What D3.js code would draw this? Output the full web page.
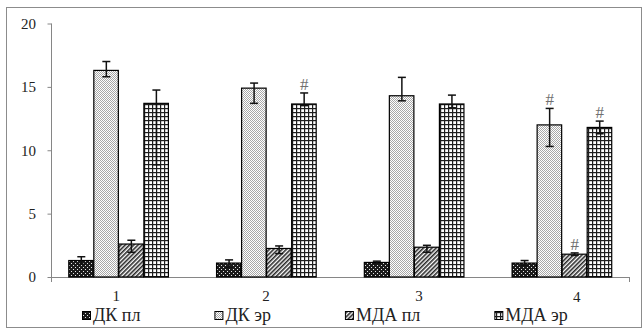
<!DOCTYPE html>
<html><head><meta charset="utf-8">
<script src="https://cdn.jsdelivr.net/npm/d3@7"></script>
<style>html,body{margin:0;padding:0;background:#fff;}svg{display:block;}</style>
</head><body>
<svg id="chart" width="643" height="329"></svg>
<script>
const categories = ["1", "2", "3", "4"];
const seriesNames = ["ДК пл", "ДК эр", "МДА пл", "МДА эр"];
// values per series, by category
const dkPl  = [1.3, 1.1, 1.15, 1.1];
const dkEr  = [16.3, 14.9, 14.3, 12.0];
const mdaPl = [2.6, 2.25, 2.35, 1.8];
const mdaEr = [13.7, 13.65, 13.65, 11.8];
// error bars (plus / minus)
const dkPlPlus  = [0.3, 0.25, 0.1, 0.2];
const dkPlMinus = [0.3, 0.35, 0.1, 0.2];
const dkErPlus  = [0.7, 0.4, 1.45, 1.3];
const dkErMinus = [0.5, 1.2, 0.4, 1.7];
const mdaPlPlus  = [0.3, 0.2, 0.15, 0.1];
const mdaPlMinus = [0.65, 0.4, 0.4, 0.1];
const mdaErPlus  = [1.05, 0.87, 0.7, 0.5];
const mdaErMinus = [4.85, 0.13, 0.3, 0.5];
// significance marks (#)
const dkPlSig  = [0, 0, 0, 0];
const dkErSig  = [0, 0, 0, 1];
const mdaPlSig = [0, 0, 0, 1];
const mdaErSig = [0, 1, 0, 1];
const yTicks = [0, 5, 10, 15, 20];

const seriesVals = [dkPl, dkEr, mdaPl, mdaEr];
const seriesPlus = [dkPlPlus, dkErPlus, mdaPlPlus, mdaErPlus];
const seriesMinus = [dkPlMinus, dkErMinus, mdaPlMinus, mdaErMinus];
const seriesSig = [dkPlSig, dkErSig, mdaPlSig, mdaErSig];

const svg = d3.select("#chart");
const font = "Liberation Serif";
const axisColor = "#868686";

// patterns
const defs = svg.append("defs");
const p0 = defs.append("pattern").attr("id","pat0").attr("width",4).attr("height",4).attr("patternUnits","userSpaceOnUse");
p0.append("rect").attr("width",4).attr("height",4).attr("fill","#1c1c1c");
p0.append("rect").attr("x",1).attr("y",1).attr("width",1).attr("height",1).attr("fill","#e8e8e8");
p0.append("rect").attr("x",3).attr("y",3).attr("width",1).attr("height",1).attr("fill","#e8e8e8");
const p1 = defs.append("pattern").attr("id","pat1").attr("width",2).attr("height",2).attr("patternUnits","userSpaceOnUse");
p1.append("rect").attr("width",2).attr("height",2).attr("fill","#ffffff");
p1.append("rect").attr("x",0).attr("y",0).attr("width",1).attr("height",1).attr("fill","#a8a8a8");
p1.append("rect").attr("x",1).attr("y",1).attr("width",1).attr("height",1).attr("fill","#a8a8a8");
const p2 = defs.append("pattern").attr("id","pat2").attr("width",3).attr("height",3).attr("patternUnits","userSpaceOnUse").attr("patternTransform","rotate(45)");
p2.append("rect").attr("width",3).attr("height",3).attr("fill","#ffffff");
p2.append("rect").attr("width",1.6).attr("height",3).attr("fill","#2a2a2a");
const p3 = defs.append("pattern").attr("id","pat3").attr("width",4).attr("height",4).attr("patternUnits","userSpaceOnUse");
p3.append("rect").attr("width",4).attr("height",4).attr("fill","#ffffff");
p3.append("rect").attr("width",4).attr("height",1.2).attr("fill","#1e1e1e");
p3.append("rect").attr("width",1.2).attr("height",4).attr("fill","#1e1e1e");

// outer border
svg.append("rect").attr("x",6.5).attr("y",7.5).attr("width",635).attr("height",320)
  .attr("fill","none").attr("stroke","#8c8c8c").attr("stroke-width",1);

const plotL = 51, plotR = 629, plotT = 23.5, plotB = 277;
const x = d3.scaleBand().domain(categories).range([plotL, plotR]).paddingInner(0.3225).paddingOuter(0.117);
const xs = d3.scaleBand().domain(seriesNames).range([0, x.bandwidth()]);
const y = d3.scaleLinear().domain([0, 20]).range([plotB, plotT]);

// y axis
const yAxis = svg.append("g").attr("transform",`translate(${plotL},0)`)
  .call(d3.axisLeft(y).tickValues(yTicks).tickSize(4).tickPadding(11).tickFormat(d3.format("d")));
yAxis.attr("font-family", font).attr("font-size", 15);
yAxis.select(".domain").attr("d",`M0.5,${plotT}V${plotB+5}`).attr("stroke",axisColor);
yAxis.selectAll(".tick line").attr("stroke",axisColor).attr("x1",0.5).attr("x2",-3.5);
yAxis.selectAll(".tick text").attr("fill","#222");

// x axis line
svg.append("line").attr("x1",plotL).attr("x2",plotR+0.5).attr("y1",plotB+0.5).attr("y2",plotB+0.5).attr("stroke",axisColor);
svg.append("line").attr("x1",plotR+0.5).attr("x2",plotR+0.5).attr("y1",plotB).attr("y2",plotB+5).attr("stroke",axisColor);

// bars
seriesNames.forEach((s, si) => {
  const g = svg.append("g");
  g.selectAll("rect").data(categories).join("rect")
    .attr("x", c => x(c) + xs(s) + 0.5)
    .attr("y", (c, i) => y(seriesVals[si][i]))
    .attr("width", xs.bandwidth() - 0.5)
    .attr("height", (c, i) => y(0) - y(seriesVals[si][i]))
    .attr("fill", `url(#pat${si})`)
    .attr("stroke", "#000").attr("stroke-width", 1.2);
});

// error bars and marks
seriesNames.forEach((s, si) => {
  categories.forEach((c, i) => {
    const cx = x(c) + xs(s) + xs.bandwidth()/2 + 0.5;
    const v = seriesVals[si][i];
    const top = y(v + seriesPlus[si][i]);
    const bot = y(v - seriesMinus[si][i]);
    const g = svg.append("g").attr("stroke","#111").attr("stroke-width",1.5);
    g.append("line").attr("x1",cx).attr("x2",cx).attr("y1",top).attr("y2",bot);
    g.append("line").attr("x1",cx-4).attr("x2",cx+4).attr("y1",top).attr("y2",top);
    g.append("line").attr("x1",cx-4).attr("x2",cx+4).attr("y1",bot).attr("y2",bot);
    if (seriesSig[si][i]) {
      svg.append("text").attr("x",cx).attr("y",top-3).attr("text-anchor","middle")
        .attr("font-family",font).attr("font-size",17).attr("fill","#707070").text("#");
    }
  });
});

// category labels
const labelShift = [-2, 0, 5, 15];
svg.append("g").selectAll("text").data(categories).join("text")
  .attr("x", (c, i) => x(c) + x.bandwidth()/2 + labelShift[i])
  .attr("y", (c, i) => i === 3 ? 302 : 301)
  .attr("text-anchor","middle").attr("font-family",font).attr("font-size",15).attr("fill","#222")
  .text(c => c);

// legend
let lx = 82;
const legend = svg.append("g");
seriesNames.forEach((s, si) => {
  legend.append("rect").attr("x",lx+0.5).attr("y",311.5).attr("width",8).attr("height",8)
    .attr("fill",`url(#pat${si})`).attr("stroke","#000").attr("stroke-width",1);
  const t = legend.append("text").attr("x",lx+11).attr("y",321)
    .attr("font-family",font).attr("font-size",18).attr("fill","#222").text(s);
  const w = t.node().getComputedTextLength();
  lx = lx + 11 + w + 74;
});
</script>
</body></html>
